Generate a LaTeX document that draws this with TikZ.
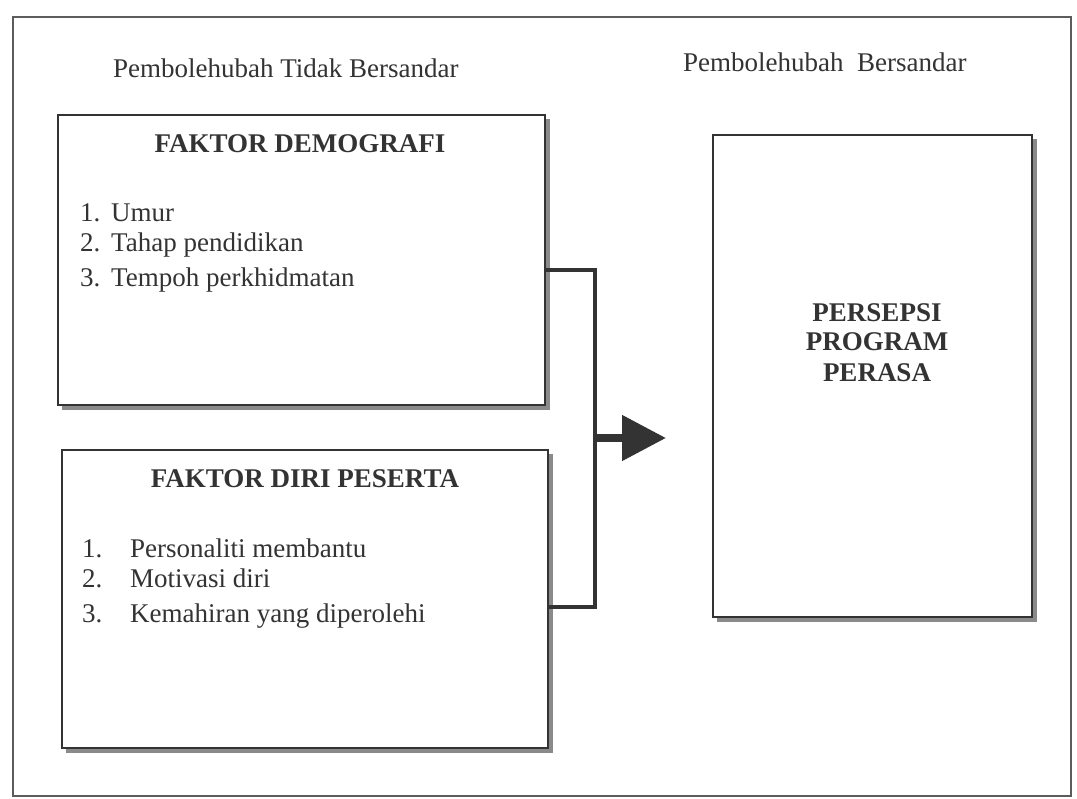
\documentclass[tikz,border=0pt]{standalone}
\usepackage{fontspec}
\setmainfont{Liberation Serif}
\usetikzlibrary{arrows.meta,calc}
\definecolor{ink}{HTML}{333333}
\definecolor{shade}{HTML}{8A8A8A}
\begin{document}
\begin{tikzpicture}[x=1pt,y=-1pt,
  box/.style={draw=ink,line width=1.6pt,fill=white,inner sep=0pt},
  shadowbox/.style={fill=shade},
  lbl/.style={font=\fontsize{27}{31}\selectfont,text=ink,inner sep=0pt,anchor=base west},
  ttl/.style={font=\fontsize{27}{31}\selectfont\bfseries,text=ink,inner sep=0pt,anchor=base},
  conn/.style={draw=ink,line width=4.5pt},
]
\useasboundingbox (0,0) rectangle (1077,799);
\fill[white] (0,0) rectangle (1077,799);
\draw[ink!80,line width=1.5pt] (13,17) rectangle (1071,796);

% headers
\node[lbl] (h1) at (113,78) {Pembolehubah Tidak Bersandar};
\node[lbl] (h2) at (683,72) {Pembolehubah\ \ Bersandar};

% shadows
\fill[shadowbox] (62,119) rectangle (550,410);
\fill[shadowbox] (66,454) rectangle (553,753);
\fill[shadowbox] (717,139) rectangle (1037,622);

% boxes
\node[box,minimum width=487pt,minimum height=290pt] (b1) at (301.5,260) {};
\node[box,minimum width=486pt,minimum height=298pt] (b2) at (305,599) {};
\node[box,minimum width=319pt,minimum height=482pt] (b3) at (872.5,376) {};

% box 1 text
\node[ttl] (t1) at (300,153) {FAKTOR DEMOGRAFI};
\node[lbl] (m1) at (80,222) {1.};
\node[lbl] (m2) at (80,252) {2.};
\node[lbl] (m3) at (80,287) {3.};
\node[lbl] (a1) at (111,222) {Umur};
\node[lbl] (a2) at (111,252) {Tahap pendidikan};
\node[lbl] (a3) at (111,287) {Tempoh perkhidmatan};

% box 2 text
\node[ttl] (t2) at (305,488) {FAKTOR DIRI PESERTA};
\node[lbl] (n1) at (82,557) {1.};
\node[lbl] (n2) at (82,587) {2.};
\node[lbl] (n3) at (82,622) {3.};
\node[lbl] (c1) at (130,557) {Personaliti membantu};
\node[lbl] (c2) at (130,587) {Motivasi diri};
\node[lbl] (c3) at (130,622) {Kemahiran yang diperolehi};

% box 3 text
\node[ttl] (p1) at (877,322) {PERSEPSI};
\node[ttl] (p2) at (877,351) {PROGRAM};
\node[ttl] (p3) at (877,382) {PERASA};

% connector
\coordinate (j) at (595,438);
\coordinate (tip) at (666,438);
\draw[conn,line cap=rect] ([yshift=-10pt]b1.east) -| (j) |- ([yshift=-8pt]b2.east);
\draw[draw=ink,line width=8pt,-{Triangle[length=44pt,width=44pt,fill=ink]}] (j) -- (tip);
\end{tikzpicture}
\end{document}
